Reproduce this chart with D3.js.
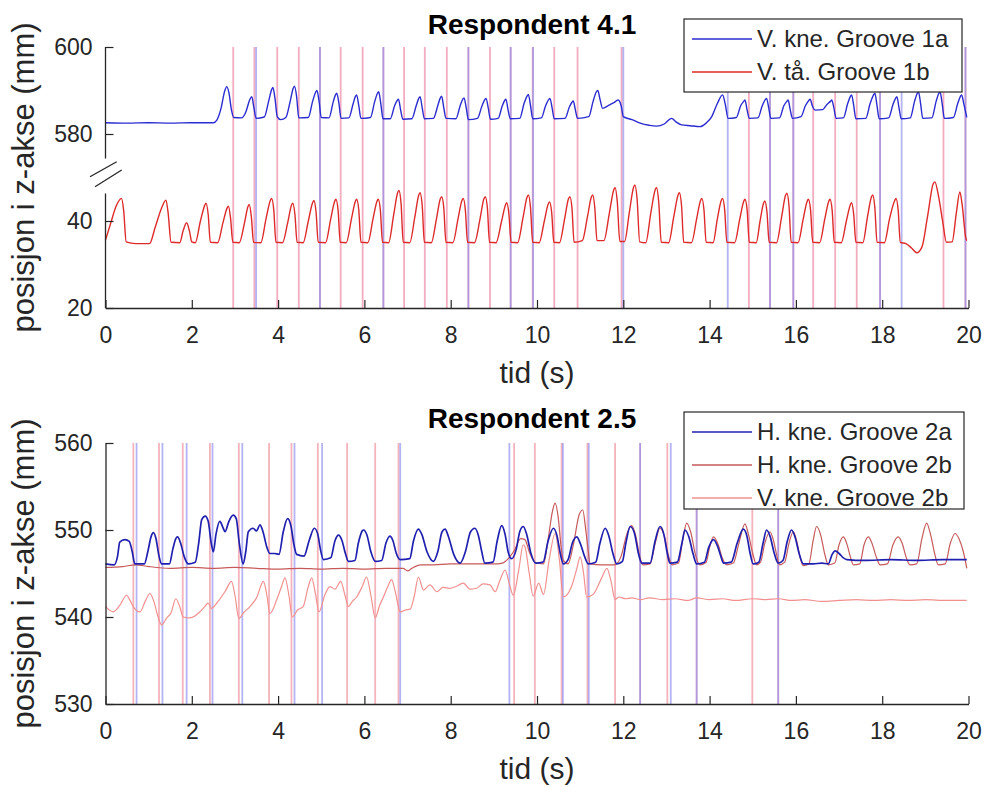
<!DOCTYPE html>
<html>
<head>
<meta charset="utf-8">
<script src="https://cdn.jsdelivr.net/npm/d3@7.9.0/dist/d3.min.js"></script>
<style>
  body { margin: 0; background: #fff; }
  svg { display: block; font-family: "Liberation Sans", Arial, sans-serif; }
</style>
</head>
<body>
<svg id="chart" width="984" height="787"></svg>
<script>
// ---- data ----
const timeTicks = [0, 2, 4, 6, 8, 10, 12, 14, 16, 18, 20];
const topTicks = [20, 40, 580, 600];        // broken axis: 580/600 sit above the break
const bottomTicks = [530, 540, 550, 560];
const kneeOffset = 520;                     // knee values are drawn shifted down by this

// Respondent 4.1 - V. kne. Groove 1a (mm)
const kne1a = [
  [0,582.6],[0.5,582.5],[1.0,582.6],[1.5,582.5],[2.0,582.6],[2.5,582.6],[2.58,583.2],[2.68,586],[2.76,589.8],[2.81,590.9],[2.86,589.5],[2.92,585.5],[2.97,583.8],
  [3.15,583.7],[3.25,585],[3.34,587.8],[3.39,588.6],[3.44,586],[3.49,583.6],[3.68,583.9],[3.78,587.5],[3.85,590.2],[3.88,590.7],[3.93,588],[3.98,584.0],
  [4.06,583.3],[4.18,583.8],[4.28,587.5],[4.35,590.5],[4.38,591.0],[4.43,588.5],[4.48,583.7],[4.70,583.8],[4.80,587.5],[4.87,589.6],[4.90,590.0],[4.95,587.5],[5.0,583.8],
  [5.18,583.7],[5.28,587.5],[5.33,589],[5.36,589.4],[5.41,587],[5.46,583.6],[5.64,583.7],[5.74,587],[5.79,588.6],[5.82,589.0],[5.87,586.5],[5.92,583.6],
  [6.14,583.8],[6.24,587.5],[6.30,589.3],[6.33,589.7],[6.38,587],[6.43,583.5],[6.60,583.5],[6.70,586.5],[6.76,587.7],[6.79,588.0],[6.84,585.5],[6.89,583.4],
  [7.10,583.5],[7.20,586.5],[7.26,588.2],[7.29,588.6],[7.34,586],[7.39,583.5],[7.60,583.6],[7.70,586.5],[7.76,588.3],[7.79,588.7],[7.84,586],[7.89,583.6],
  [8.12,583.5],[8.22,586.5],[8.28,588],[8.31,588.3],[8.36,586],[8.41,583.3],[8.62,583.6],[8.72,586.3],[8.79,587.9],[8.82,588.2],[8.87,586],[8.92,583.4],
  [9.10,583.6],[9.19,586.3],[9.25,587.7],[9.28,588.0],[9.33,585.5],[9.38,583.5],[9.60,583.6],[9.70,587],[9.77,588.7],[9.80,589.1],[9.85,586.5],[9.90,583.5],
  [10.10,583.7],[10.20,586.5],[10.27,587.9],[10.30,588.2],[10.35,586],[10.40,583.5],[10.65,583.6],[10.75,586.2],[10.81,587.3],[10.84,587.6],[10.89,585.5],[10.94,583.6],
  [11.20,584.0],[11.30,587.5],[11.37,589.6],[11.41,590.0],[11.46,588],[11.52,585.9],[11.65,586.5],[11.78,587.2],[11.88,587.8],[11.95,586.5],[12.0,584.0],
  [12.2,583.3],[12.39,582.5],[12.6,582.0],[12.77,581.8],[12.95,582.3],[13.12,583.6],[13.22,582.8],[13.35,582.1],[13.55,581.9],[13.78,581.7],[13.92,582.5],
  [14.05,584],[14.18,587],[14.30,589.0],[14.36,587],[14.43,583.6],[14.62,583.8],[14.72,586.5],[14.79,587.5],[14.82,587.8],[14.87,585.5],[14.92,583.6],
  [15.12,583.7],[15.22,586.5],[15.29,587.9],[15.32,588.2],[15.37,586],[15.42,583.6],[15.62,583.7],[15.72,586.5],[15.79,587.5],[15.82,587.8],[15.87,585.5],[15.92,583.6],
  [16.12,584.0],[16.22,586.5],[16.30,587.7],[16.33,588.0],[16.38,586.5],[16.45,585.5],[16.62,585.6],[16.72,586.8],[16.80,587.5],[16.83,587.8],[16.88,586],[16.93,583.6],
  [17.10,583.7],[17.20,587],[17.26,588.6],[17.29,589.0],[17.34,586.5],[17.39,583.5],[17.62,583.6],[17.72,587],[17.80,589],[17.83,589.4],[17.88,586.5],[17.93,583.5],
  [18.15,583.7],[18.25,586.8],[18.31,588.2],[18.34,588.6],[18.39,586],[18.44,583.5],[18.65,583.7],[18.75,587.5],[18.81,589.3],[18.84,589.7],[18.89,587],[18.94,583.6],
  [19.15,583.7],[19.25,587.5],[19.31,589.3],[19.34,589.7],[19.39,587],[19.44,583.6],[19.65,583.8],[19.75,587],[19.81,588.6],[19.84,589.0],[19.89,587],[19.96,583.8]
];

// Respondent 4.1 - V. tå. Groove 1b (mm)
const taa1b = [
  [0,35.6],[0.12,39.5],[0.25,43.5],[0.37,45.2],[0.42,42.5],[0.48,35.2],[0.7,34.8],[1.02,34.8],
  [1.15,38.5],[1.30,43],[1.40,44.8],[1.45,42],[1.52,35.1],[1.72,35.0],
  [1.80,37.8],[1.88,39.6],[1.95,37.5],[2.0,35.2],[2.08,35.0],
  [2.20,40],[2.30,43.6],[2.33,44.1],[2.38,41.5],[2.43,35.1],[2.60,35.0],
  [2.72,39.5],[2.82,43],[2.85,43.4],[2.90,40.5],[2.95,35.1],[3.10,35.0],
  [3.22,39.5],[3.30,43.3],[3.33,43.8],[3.38,41],[3.43,35.1],[3.60,35.0],
  [3.72,40.5],[3.82,44.7],[3.85,45.2],[3.90,42.5],[3.95,35.1],[4.10,35.0],
  [4.22,39.5],[4.31,43.6],[4.34,44.1],[4.39,41.5],[4.44,35.1],[4.58,35.0],
  [4.70,40],[4.80,44.2],[4.83,44.7],[4.88,42],[4.93,35.1],[5.10,35.0],
  [5.22,40.5],[5.31,44.5],[5.34,45.0],[5.39,42.5],[5.44,35.1],[5.58,35.0],
  [5.70,40.5],[5.79,44.5],[5.82,45.0],[5.87,42.5],[5.92,35.1],[6.08,35.0],
  [6.20,40.5],[6.29,44.5],[6.32,45.0],[6.37,42.5],[6.42,35.1],[6.56,35.0],
  [6.68,41.5],[6.77,46.5],[6.80,47.0],[6.85,44],[6.90,35.1],[7.05,35.0],
  [7.17,41],[7.26,46],[7.29,46.5],[7.34,43.5],[7.39,35.1],[7.55,35.0],
  [7.67,40.5],[7.76,45.1],[7.79,45.6],[7.84,43],[7.89,35.1],[8.05,35.0],
  [8.17,40.5],[8.26,44.7],[8.29,45.2],[8.34,42.5],[8.39,35.1],[8.55,35.0],
  [8.68,40.5],[8.77,45.1],[8.80,45.6],[8.85,43],[8.90,35.1],[9.05,35.0],
  [9.18,40],[9.27,43.7],[9.30,44.2],[9.35,41.5],[9.40,35.1],[9.55,35.0],
  [9.68,41],[9.77,45.5],[9.80,46.0],[9.85,43],[9.90,35.1],[10.05,35.0],
  [10.17,40],[10.26,43.9],[10.29,44.4],[10.34,42],[10.39,35.1],[10.52,35.0],
  [10.64,40.5],[10.73,45.1],[10.76,45.6],[10.81,43],[10.86,35.1],[11.05,35.5],
  [11.17,41],[11.26,45.5],[11.29,46.0],[11.34,43],[11.39,35.5],[11.55,35.5],
  [11.68,42],[11.78,47.2],[11.81,47.7],[11.86,44.5],[11.92,35.3],[12.03,35.3],
  [12.14,42],[12.24,47.8],[12.27,48.3],[12.32,45],[12.38,35.2],[12.52,35.0],
  [12.64,42],[12.74,47.2],[12.77,47.7],[12.82,44.5],[12.88,35.1],[13.05,35.0],
  [13.17,41],[13.27,46],[13.30,46.5],[13.35,43.5],[13.40,35.1],[13.58,35.0],
  [13.70,40.5],[13.79,44.7],[13.82,45.2],[13.87,42.5],[13.92,35.1],[14.08,35.0],
  [14.18,40.5],[14.27,44.7],[14.30,45.2],[14.35,42.5],[14.40,35.1],[14.58,35.0],
  [14.70,40.5],[14.79,44.5],[14.82,45.0],[14.87,42.5],[14.92,35.1],[15.08,35.0],
  [15.17,40],[15.25,44.1],[15.28,44.6],[15.33,42],[15.38,35.1],[15.55,35.0],
  [15.67,41],[15.76,45.9],[15.79,46.4],[15.84,43.5],[15.89,35.1],[16.05,35.0],
  [16.17,40.5],[16.26,44.5],[16.29,45.0],[16.34,42.5],[16.39,35.1],[16.55,35.0],
  [16.67,40.5],[16.76,44.5],[16.79,45.0],[16.84,42.5],[16.89,35.1],[17.05,35.0],
  [17.17,40],[17.26,43.7],[17.29,44.2],[17.34,41.5],[17.39,35.1],[17.55,35.0],
  [17.66,41],[17.75,45.5],[17.78,46.0],[17.83,43],[17.88,35.1],[18.05,35.0],
  [18.17,40.5],[18.29,44.7],[18.32,45.2],[18.37,42.5],[18.42,35.1],[18.55,34.8],
  [18.68,33.8],[18.80,32.7],[18.92,34.0],
  [19.05,41],[19.18,48.5],[19.22,49.0],[19.30,46],[19.40,40],[19.49,35.1],[19.62,35.2],
  [19.72,42],[19.80,46.7],[19.85,44],[19.94,36],[19.96,35.5]
];

// Respondent 4.1 event times (s)
const kneEvents1 = [3.49, 4.97, 6.44, 8.41, 9.39, 9.91, 12.0, 14.42, 15.40, 15.94, 17.95, 18.45, 19.93];
const taaEvents1 = [2.96, 3.45, 3.98, 4.48, 4.97, 5.45, 5.96, 6.44, 6.92, 7.40, 7.91, 8.41, 8.91, 9.39, 9.90,
  10.40, 10.94, 11.96, 14.91, 15.40, 15.94, 16.40, 16.91, 17.41, 17.95, 19.42, 19.93];

// Respondent 2.5 - H. kne. Groove 2a (mm)
const hkne2a = [
  [0,546.1],[0.2,546.0],[0.28,547],[0.33,548.6],[0.45,548.9],[0.55,548.7],[0.62,547.5],[0.68,546.1],[0.90,546.1],[0.98,547.5],[1.06,549.3],[1.11,549.7],[1.17,549],[1.24,547],[1.30,546.1],
  [1.48,546.1],[1.56,547.8],[1.63,549],[1.67,549.2],[1.74,548.5],[1.82,547],[1.92,546.1],[2.08,546.3],[2.16,548.5],[2.23,551.2],[2.31,551.6],[2.38,551],[2.45,548.5],[2.50,547.5],
  [2.56,549.5],[2.65,551.0],[2.72,550.3],[2.77,549.8],[2.86,551],[2.96,551.7],[3.03,551.3],[3.10,548.5],[3.19,546.1],[3.25,547.5],[3.31,549.8],[3.42,550.2],[3.50,549.9],[3.58,550.6],
  [3.65,549.8],[3.74,548],[3.81,547.3],[3.92,547.3],[4.02,547.2],[4.12,549.8],[4.22,551.3],[4.30,550.4],[4.36,548.5],[4.43,547.2],[4.60,547.0],[4.72,548.8],[4.84,550.2],[4.92,549.5],
  [4.98,547.8],[5.05,546.6],[5.22,546.8],[5.32,548.8],[5.40,549.4],[5.48,548.8],[5.56,547.3],[5.63,546.4],[5.78,546.5],[5.86,548.5],[5.95,549.9],[5.98,550.0],[6.06,549.4],[6.15,547.5],
  [6.25,546.4],[6.40,546.5],[6.50,548.5],[6.59,549.3],[6.66,548.8],[6.74,547.3],[6.83,546.6],[7.05,546.7],[7.14,548.8],[7.25,550.1],[7.33,549.5],[7.45,547.5],[7.60,546.4],[7.70,547.5],
  [7.80,549.8],[7.87,550.1],[7.95,549.2],[8.07,547.2],[8.22,546.2],[8.34,547.5],[8.46,549.8],[8.56,550.2],[8.64,549.4],[8.72,547.5],[8.79,546.2],[8.98,546.3],[9.08,548.8],[9.18,550.5],
  [9.26,549.5],[9.33,547.5],[9.41,546.7],[9.52,547.8],[9.60,549.8],[9.68,550.4],[9.76,549.5],[9.86,547.3],[9.97,546.2],[10.14,546.3],[10.26,548.8],[10.38,550.2],[10.46,549.4],[10.54,547.3],
  [10.61,546.1],[10.72,546.6],[10.82,548.5],[10.92,549.2],[11.00,548.5],[11.10,547],[11.19,546.1],[11.36,546.3],[11.46,548.5],[11.58,550.2],[11.66,549.4],[11.76,547.3],[11.85,546.1],
  [11.98,546.4],[12.06,548.5],[12.16,550.4],[12.26,549.6],[12.35,547.3],[12.43,546.2],[12.62,546.2],[12.74,548.8],[12.85,550.4],[12.94,549.5],[13.02,547.3],[13.08,546.2],[13.25,546.3],
  [13.36,548.5],[13.43,550.0],[13.52,549.2],[13.62,547.2],[13.70,546.1],[13.88,546.3],[13.98,548],[14.09,548.9],[14.18,548.2],[14.26,547],[14.32,546.2],[14.50,546.3],[14.64,548.5],
  [14.78,550.1],[14.86,549.4],[14.94,547.3],[15.01,546.1],[15.14,546.3],[15.24,548.5],[15.32,550.0],[15.40,549.3],[15.50,547.3],[15.59,546.2],[15.70,546.5],[15.80,548.7],[15.90,550.0],
  [15.98,549.2],[16.08,547.2],[16.17,546.1],[16.40,546.1],[16.60,546.2],[16.75,546.1],[16.84,547.2],[16.91,547.6],[17.00,547.3],[17.10,546.8],[17.18,546.6],[17.6,546.5],[18.2,546.6],
  [18.8,546.5],[19.4,546.6],[19.96,546.6]
];

// Respondent 2.5 - H. kne. Groove 2b (mm)
const hkne2b = [
  [0,545.7],[0.4,545.8],[0.7,546.0],[1.0,545.8],[1.5,545.6],[2.0,545.7],[2.5,545.6],[3.0,545.7],[3.5,545.6],[4.0,545.5],[4.5,545.6],[5.0,545.5],[5.5,545.6],[6.0,545.5],[6.5,545.6],
  [6.9,545.6],[7.0,545.3],[7.1,545.6],[7.3,546.0],[7.6,546.0],[8.0,546.1],[8.5,546.1],[9.0,546.1],[9.20,546.2],[9.35,546.8],[9.48,547.7],[9.62,549.0],[9.72,548.9],[9.82,547.5],
  [9.95,546.3],[10.15,546.1],[10.26,549],[10.36,552.2],[10.42,553.1],[10.49,551.5],[10.56,548],[10.61,546.5],[10.72,546.1],[10.85,548.5],[10.98,551.8],[11.06,552.3],[11.13,550],
  [11.19,547.5],[11.23,546.1],[11.5,546.0],[11.80,546.0],[11.95,547],[12.08,549.5],[12.19,550.5],[12.28,549.5],[12.38,547],[12.45,546.0],[12.62,546.1],[12.74,548.5],[12.85,550.2],
  [12.95,549.3],[13.05,547],[13.13,546.0],[13.28,546.2],[13.38,549],[13.47,550.8],[13.56,549.8],[13.67,547.2],[13.77,546.0],[13.92,546.3],[14.00,548],[14.09,549.2],[14.20,548.3],
  [14.30,546.7],[14.40,546.0],[14.55,546.2],[14.68,548.5],[14.82,550.7],[14.90,549.5],[15.00,547.3],[15.09,546.0],[15.18,546.3],[15.28,548.5],[15.40,549.8],[15.48,548.8],[15.56,547],
  [15.62,546.0],[15.74,546.3],[15.84,548.5],[15.94,549.8],[16.02,548.7],[16.10,546.8],[16.17,545.9],[16.30,546.1],[16.40,548.8],[16.48,550.4],[16.57,549.5],[16.67,547.2],[16.75,546.0],
  [16.90,546.2],[17.00,548.3],[17.10,549.2],[17.18,548.4],[17.27,546.8],[17.33,546.0],[17.48,546.1],[17.58,548.3],[17.68,549.2],[17.76,548.5],[17.87,546.8],[17.95,546.0],[18.12,546.1],
  [18.25,548.3],[18.37,549.2],[18.46,548.5],[18.56,546.8],[18.64,546.0],[18.80,546.1],[18.92,549],[19.03,550.8],[19.12,549.5],[19.22,547.2],[19.30,546.0],[19.46,546.1],[19.58,548.5],
  [19.69,549.6],[19.78,549],[19.88,547.5],[19.96,545.6]
];

// Respondent 2.5 - V. kne. Groove 2b (mm)
const vkne2b = [
  [0,541.2],[0.18,540.6],[0.34,541.4],[0.49,542.5],[0.56,542],[0.64,541.2],[0.80,540.6],[0.92,541.8],[1.03,542.7],[1.12,541.8],[1.22,540.0],[1.30,539.1],[1.42,539.9],[1.52,540.5],
  [1.63,542.1],[1.72,541.2],[1.80,540.0],[1.96,539.9],[2.19,540.6],[2.30,541.2],[2.38,541.6],[2.45,541.0],[2.61,541.8],[2.78,543],[2.92,544.1],[3.00,542.5],[3.09,539.8],[3.20,540.5],
  [3.35,541.2],[3.50,542.2],[3.66,544.1],[3.74,542.5],[3.81,540.4],[3.97,542.0],[4.08,543.5],[4.16,544.5],[4.25,542.5],[4.33,540.0],[4.45,540.8],[4.58,541.2],[4.70,543.5],[4.78,544.5],
  [4.86,542.8],[4.95,540.6],[5.08,542.5],[5.20,543.5],[5.32,543.2],[5.45,544.1],[5.55,542.5],[5.63,541.2],[5.72,541.8],[5.82,542.3],[5.95,543.5],[6.05,544.6],[6.15,542.5],[6.25,539.9],
  [6.35,541.3],[6.44,542.3],[6.55,543.6],[6.63,544.3],[6.72,542.8],[6.83,540.6],[6.95,540.8],[7.06,540.9],[7.16,542.5],[7.25,544.6],[7.37,543.1],[7.52,543.7],[7.68,542.9],[7.82,543.4],
  [7.98,543.3],[8.12,543.5],[8.29,543.9],[8.45,543.2],[8.60,543.3],[8.75,543.8],[8.91,543.7],[9.03,542.9],[9.14,544.2],[9.26,545.4],[9.36,543.8],[9.45,542.5],[9.58,545.5],[9.68,548.3],
  [9.72,548.1],[9.82,545],[9.91,542.4],[10.04,543.9],[10.15,542.6],[10.28,546.5],[10.42,549.6],[10.52,546.5],[10.61,542.3],[10.80,543.5],[10.92,545.5],[11.00,546.9],[11.08,545],
  [11.15,542.3],[11.30,542.6],[11.50,544.5],[11.62,545.6],[11.72,544],[11.81,542.0],[11.90,542.3],[12.05,542.1],[12.2,542.2],[12.4,542.0],[12.6,542.2],[12.93,542.0],[13.2,542.1],
  [13.5,541.9],[13.7,542.2],[14.0,542.0],[14.3,542.1],[14.6,541.9],[15.0,542.1],[15.3,542.0],[15.6,542.1],[15.9,541.9],[16.2,542.0],[16.6,541.8],[17.0,541.9],[17.4,542.0],[17.8,541.9],
  [18.2,542.0],[18.6,541.9],[19.0,542.0],[19.5,541.9],[19.96,541.9]
];

// Respondent 2.5 event times (s)
const kneEvents2a = [0.72, 1.32, 1.88, 2.48, 3.17, 4.38, 5.02, 6.83, 9.36, 10.60, 11.20, 12.39, 13.10, 13.70, 15.59];
const kneEvents2b = [0.645, 1.24, 1.79, 2.42, 3.09, 3.79, 4.31, 4.92, 5.60, 6.25, 6.79, 9.47, 9.95, 10.57, 11.17,
  11.81, 12.39, 13.02, 13.70, 14.99, 15.59];

// ---- drawing ----
const svg = d3.select('#chart');
const axisColor = '#262626';

const xScale = d3.scaleLinear().domain([0, 20]).range([105.5, 968.5]);

function plotZ(v) {
  return v > 500 ? v - kneeOffset : v;
}

function drawEvents(g, events, yScale, color) {
  const [y0, y1] = yScale.range();
  g.append('g')
    .selectAll('line')
    .data(events)
    .join('line')
    .attr('x1', d => xScale(d))
    .attr('x2', d => xScale(d))
    .attr('y1', y0)
    .attr('y2', y1)
    .attr('stroke', color)
    .attr('stroke-width', 1.8)
    .attr('stroke-opacity', 0.65);
}

function drawSeries(g, data, yScale, color, width, shift = 0) {
  const line = d3.line()
    .x(d => xScale(d[0]))
    .y(d => yScale(d[1] - shift))
    .curve(d3.curveMonotoneX);
  g.append('path')
    .datum(data)
    .attr('d', line)
    .attr('fill', 'none')
    .attr('stroke', color)
    .attr('stroke-width', width)
    .attr('stroke-linejoin', 'round');
}

function drawXAxis(yScale, labelY) {
  const base = yScale.range()[0];
  const ax = svg.append('g')
    .attr('transform', `translate(0, ${base})`)
    .call(d3.axisBottom(xScale).tickValues(timeTicks).tickSizeInner(-8).tickSizeOuter(0).tickPadding(19));
  ax.select('.domain').attr('stroke', axisColor).attr('stroke-width', 1.3);
  ax.selectAll('.tick line').attr('stroke', axisColor).attr('stroke-width', 1.2);
  ax.selectAll('.tick text').attr('fill', axisColor).attr('font-size', 23).attr('font-family', null);

  svg.append('text')
    .attr('x', xScale(10))
    .attr('y', labelY)
    .attr('text-anchor', 'middle')
    .attr('font-size', 30)
    .attr('fill', axisColor)
    .text('tid (s)');
}

function drawYLabel(yScale) {
  const [b, t] = yScale.range();
  svg.append('text')
    .attr('transform', `translate(34, ${(b + t) / 2}) rotate(-90)`)
    .attr('text-anchor', 'middle')
    .attr('font-size', 31)
    .attr('fill', axisColor)
    .text('posisjon i z-akse (mm)');
}

function drawTitle(text, y) {
  svg.append('text')
    .attr('x', 532)
    .attr('y', y)
    .attr('text-anchor', 'middle')
    .attr('font-size', 28)
    .attr('font-weight', 'bold')
    .attr('fill', '#000')
    .text(text);
}

function drawLegend(x, y, w, h, items) {
  const g = svg.append('g').attr('transform', `translate(${x}, ${y})`);
  g.append('rect')
    .attr('width', w).attr('height', h)
    .attr('fill', '#fff')
    .attr('stroke', axisColor)
    .attr('stroke-width', 1.2);
  items.forEach((it, i) => {
    const cy = 20 + i * 33;
    g.append('line')
      .attr('x1', 8).attr('x2', 68)
      .attr('y1', cy).attr('y2', cy)
      .attr('stroke', it.color)
      .attr('stroke-width', 1.3);
    g.append('text')
      .attr('x', 73).attr('y', cy + 8)
      .attr('font-size', 24)
      .attr('fill', axisColor)
      .text(it.label);
  });
}

// ---- top panel: Respondent 4.1 ----
const yTop = d3.scaleLinear().domain([20, 80]).range([308, 47]);
const topG = svg.append('g');
drawEvents(topG, taaEvents1, yTop, '#ec7f9e');
drawEvents(topG, kneEvents1, yTop, '#8c8cec');
drawSeries(topG, taa1b, yTop, '#de2a2a', 1.4);
drawSeries(topG, kne1a, yTop, '#2b2bd2', 1.4, kneeOffset);

const yAxTop = svg.append('g')
  .attr('transform', `translate(${xScale(0)}, 0)`)
  .call(d3.axisLeft(yTop)
    .tickValues(topTicks.map(plotZ))
    .tickFormat((d, i) => topTicks[i])
    .tickSizeInner(-8).tickSizeOuter(0).tickPadding(13));
yAxTop.select('.domain').remove();
yAxTop.selectAll('.tick line').attr('stroke', axisColor).attr('stroke-width', 1.2);
yAxTop.selectAll('.tick text').attr('fill', axisColor).attr('font-size', 23).attr('font-family', null);

// broken spine with "//" marks at z = 50
const breakY = yTop(50);
const x0 = xScale(0);
svg.append('line').attr('x1', x0).attr('x2', x0).attr('y1', yTop(80)).attr('y2', breakY - 19)
  .attr('stroke', axisColor).attr('stroke-width', 1.3);
svg.append('line').attr('x1', x0).attr('x2', x0).attr('y1', breakY + 16).attr('y2', yTop(20))
  .attr('stroke', axisColor).attr('stroke-width', 1.3);
[[-15.5, -0.8, 11.2, -15.8], [-10.5, 9.2, 16.2, -7.5]].forEach(([ax, ay, bx, by]) => {
  svg.append('line')
    .attr('x1', x0 + ax).attr('y1', breakY + ay)
    .attr('x2', x0 + bx).attr('y2', breakY + by)
    .attr('stroke', axisColor).attr('stroke-width', 1.3);
});

drawXAxis(yTop, 383);
drawYLabel(yTop);
drawTitle('Respondent 4.1', 34);
drawLegend(684, 19, 278, 73, [
  { label: 'V. kne. Groove 1a', color: '#2b2bd2' },
  { label: 'V. tå. Groove 1b', color: '#de2a2a' }
]);

// ---- bottom panel: Respondent 2.5 ----
const yBot = d3.scaleLinear().domain([530, 560]).range([704, 443]);
const botG = svg.append('g');
drawEvents(botG, kneEvents2b, yBot, '#f08a96');
drawEvents(botG, kneEvents2a, yBot, '#8c8cf0');
drawSeries(botG, vkne2b, yBot, '#f29090', 1.2);
drawSeries(botG, hkne2b, yBot, '#c65a5a', 1.2);
drawSeries(botG, hkne2a, yBot, '#2020b0', 1.7);

const yAxBot = svg.append('g')
  .attr('transform', `translate(${xScale(0)}, 0)`)
  .call(d3.axisLeft(yBot).tickValues(bottomTicks).tickSizeInner(-8).tickSizeOuter(0).tickPadding(13));
yAxBot.select('.domain').attr('stroke', axisColor).attr('stroke-width', 1.3);
yAxBot.selectAll('.tick line').attr('stroke', axisColor).attr('stroke-width', 1.2);
yAxBot.selectAll('.tick text').attr('fill', axisColor).attr('font-size', 23).attr('font-family', null);

drawXAxis(yBot, 779);
drawYLabel(yBot);
drawTitle('Respondent 2.5', 428);
drawLegend(684, 412, 280, 97, [
  { label: 'H. kne. Groove 2a', color: '#2020b0' },
  { label: 'H. kne. Groove 2b', color: '#c65a5a' },
  { label: 'V. kne. Groove 2b', color: '#f29090' }
]);
</script>
</body>
</html>
